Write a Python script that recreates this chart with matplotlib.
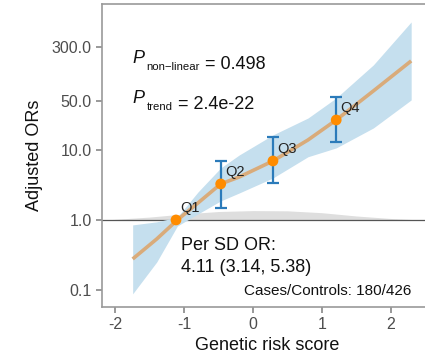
"""
Restricted cubic spline OR vs genetic risk score, with quartile ORs.
Output: out.png
"""

import matplotlib.pyplot as plt

plt.rcParams["font.family"] = ["Liberation Sans", "DejaVu Sans"]

# spline curve
curve_x = [-1.75, -1.4, -1.1, -0.8, -0.47, -0.2, 0.29, 0.8, 1.21, 1.75, 2.3]
curve_or = [0.277, 0.535, 1.0, 1.75, 3.27, 4.11, 6.96, 13.9, 26.8, 69.6, 187]
ci_low = [0.088, 0.251, 0.82, 1.22, 1.87, 2.43, 3.98, 8.0, 10.7, 20.6, 51.8]
ci_high = [0.85, 0.94, 1.10, 2.51, 5.53, 8.48, 16.4, 28.6, 55.3, 164, 674]

# distribution of the score (grey shading above OR = 1)
dens_x = [-2.15, -1.5, -1.0, -0.5, 0.0, 0.5, 1.0, 1.5, 2.0, 2.35]
dens_y = [1.0, 1.1, 1.22, 1.32, 1.36, 1.35, 1.27, 1.14, 1.05, 1.01]

# quartile ORs
q_labels = ["Q1", "Q2", "Q3", "Q4"]
q_x = [-1.12, -0.47, 0.29, 1.21]
q_or = [1.0, 3.27, 6.96, 26.8]
q_low = [1.0, 1.48, 3.41, 12.9]
q_high = [1.0, 6.97, 15.2, 56.4]

y_ticks = [0.1, 1.0, 10.0, 50.0, 300.0]
x_ticks = [-2, -1, 0, 1, 2]

# p-value annotations: (subscript, value text, OR position of baseline)
p_subs = ["non\u2212linear", "trend"]
p_vals = [" = 0.498", " = 2.4e-22"]
p_y = [175, 47]

fig = plt.figure(figsize=(4.25, 3.59), dpi=100)
ax = fig.add_axes([0.24, 0.145, 0.776, 0.844])

ax.fill_between(dens_x, 1.0, dens_y, color="#dedede", lw=0, zorder=1)
ax.axhline(1.0, color="#555555", lw=0.9, zorder=2)
ax.fill_between(curve_x, ci_low, ci_high, color="#c5dfee", lw=0, zorder=3)
ax.plot(curve_x, curve_or, color="#d9ab7a", lw=2.6, zorder=4, solid_capstyle="butt")

yerr = [[o - l for o, l in zip(q_or, q_low)], [h - o for o, h in zip(q_or, q_high)]]
ax.errorbar(q_x[1:], q_or[1:], yerr=[yerr[0][1:], yerr[1][1:]], fmt="none",
            ecolor="#2b7bba", elinewidth=1.6, capsize=4, capthick=1.6, zorder=5)
ax.scatter(q_x, q_or, s=60, color="#ff8c00", edgecolors="none", zorder=6)
for lab, x, y in zip(q_labels, q_x, q_or):
    ax.annotate(lab, (x, y), xytext=(3, 3.5), textcoords="offset points",
                fontsize=10.5, color="#222222", ha="left", va="bottom", zorder=7)

ax.set_yscale("log")
ax.set_ylim(0.0572, 1218)
ax.set_xlim(-2.196, 2.6)
ax.set_yticks(y_ticks)
ax.set_yticklabels([f"{v:.1f}" for v in y_ticks])
ax.minorticks_off()
ax.set_xticks(x_ticks)
ax.set_xticklabels([str(v) for v in x_ticks])

ax.tick_params(axis="both", colors="#888888", labelcolor="#4d4d4d",
               labelsize=11.5, length=4, width=1.2)
for sp in ax.spines.values():
    sp.set_color("#999999")
    sp.set_linewidth(1.2)

ax.set_xlabel("Genetic risk score", fontsize=13, color="#111111", labelpad=3)
ax.set_ylabel("Adjusted ORs", fontsize=13, color="#111111", labelpad=6)

# P with subscript, built from three texts
for sub, val, y in zip(p_subs, p_vals, p_y):
    t_p = ax.text(-1.75, y, "P", fontsize=13, style="italic",
                  va="baseline", ha="left", color="#111111")
    t_s = ax.annotate(sub, xy=(1, 0), xycoords=t_p, xytext=(1.5, -2.3),
                      textcoords="offset points", fontsize=8.2,
                      va="baseline", ha="left", color="#111111")
    ax.annotate(val, xy=(1, 0), xycoords=t_s, xytext=(0, 2.3),
                textcoords="offset points", fontsize=13,
                va="baseline", ha="left", color="#111111")

ax.text(-1.05, 0.30, "Per SD OR:\n4.11 (3.14, 5.38)", fontsize=13,
        va="center", ha="left", color="#111111", linespacing=1.35)
ax.text(2.31, 0.097, "Cases/Controls: 180/426", fontsize=11,
        va="center", ha="right", color="#111111")

plt.savefig("out.png", dpi=100)
plt.close()
